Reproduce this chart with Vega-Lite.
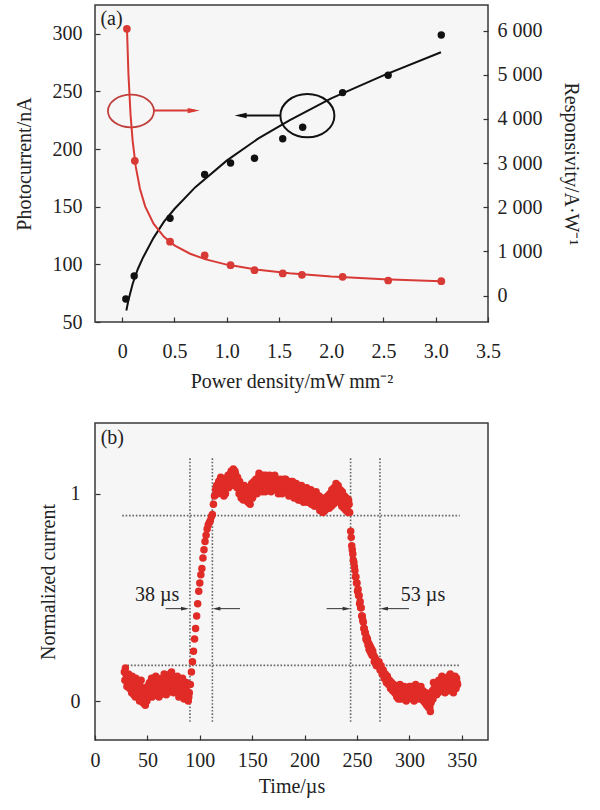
{
"$schema": "https://vega.github.io/schema/vega-lite/v6.json",
"padding": {"left": 13, "top": 4, "right": 5, "bottom": 5},
"spacing": 30,
"config": {
 "font": "Liberation Serif",
 "view": {"stroke": "#3a3a3a", "strokeWidth": 1.5, "fill": "#f6f6f6"},
 "axis": {"grid": false, "domain": false, "labelFont": "Liberation Serif", "titleFont": "Liberation Serif", "labelFontSize": 20, "titleFontSize": 20, "titleFontWeight": "normal", "labelColor": "#222", "titleColor": "#222", "tickColor": "#333", "tickSize": -5, "tickWidth": 1.2, "labelFlush": false, "labelOverlap": false, "labelPadding": 12},
 "text": {"font": "Liberation Serif", "fontSize": 20, "color": "#222"}
},
"datasets": {
 "pc": [{"P":0.035,"I":70},{"P":0.115,"I":90},{"P":0.458,"I":140},{"P":0.789,"I":178},{"P":1.037,"I":188},{"P":1.266,"I":192},{"P":1.536,"I":209},{"P":1.727,"I":219},{"P":2.109,"I":249},{"P":2.545,"I":264},{"P":3.053,"I":299}],
 "pcfit": [{"P":0.04,"I":60},{"P":0.06,"I":69},{"P":0.1,"I":83},{"P":0.15,"I":96},{"P":0.2,"I":106},{"P":0.3,"I":123},{"P":0.4,"I":137},{"P":0.5,"I":148},{"P":0.7,"I":167},{"P":1.0,"I":190},{"P":1.3,"I":209},{"P":1.6,"I":225},{"P":2.0,"I":244},{"P":2.5,"I":264},{"P":3.05,"I":284}],
 "rs": [{"P":0.045,"R":6040},{"P":0.121,"R":3050},{"P":0.458,"R":1220},{"P":0.789,"R":908},{"P":1.037,"R":688},{"P":1.266,"R":574},{"P":1.536,"R":499},{"P":1.72,"R":470},{"P":2.109,"R":424},{"P":2.545,"R":340},{"P":3.053,"R":325}],
 "rsfit": [{"P":0.046,"R":6040},{"P":0.06,"R":5015},{"P":0.08,"R":4102},{"P":0.1,"R":3509},{"P":0.13,"R":2919},{"P":0.17,"R":2419},{"P":0.22,"R":2020},{"P":0.3,"R":1626},{"P":0.4,"R":1329},{"P":0.5,"R":1137},{"P":0.65,"R":946},{"P":0.8,"R":818},{"P":1.0,"R":700},{"P":1.3,"R":582},{"P":1.6,"R":504},{"P":2.0,"R":431},{"P":2.5,"R":369},{"P":3.05,"R":321}],
 "pulse": [
{"t":28,"v":0.14},{"t":29,"v":0.16},{"t":30,"v":0.11},{"t":31,"v":0.08},{"t":32,"v":0.13},{"t":33,"v":0.06},{"t":34,"v":0.10},{"t":35,"v":0.04},{"t":36,"v":0.09},{"t":37,"v":0.03},{"t":38,"v":0.07},{"t":39,"v":0.11},{"t":40,"v":0.05},{"t":41,"v":0.02},{"t":42,"v":0.08},{"t":43,"v":0.04},{"t":44,"v":0.10},{"t":45,"v":0.01},{"t":46,"v":-0.01},{"t":47,"v":0.05},{"t":48,"v":-0.02},{"t":49,"v":0.03},{"t":50,"v":0.07},{"t":51,"v":0.02},{"t":52,"v":0.09},{"t":53,"v":0.05},{"t":54,"v":0.11},{"t":55,"v":0.06},{"t":56,"v":0.03},{"t":57,"v":0.08},{"t":58,"v":0.12},{"t":59,"v":0.05},{"t":60,"v":0.09},{"t":61,"v":0.02},{"t":62,"v":0.06},{"t":63,"v":0.10},{"t":64,"v":0.04},{"t":65,"v":0.08},{"t":66,"v":0.13},{"t":67,"v":0.07},{"t":68,"v":0.03},{"t":69,"v":0.09},{"t":70,"v":0.12},{"t":71,"v":0.06},{"t":72,"v":0.10},{"t":73,"v":0.14},{"t":74,"v":0.08},{"t":75,"v":0.04},{"t":76,"v":0.07},{"t":77,"v":0.11},{"t":78,"v":0.05},{"t":79,"v":0.09},{"t":80,"v":0.02},{"t":81,"v":0.06},{"t":82,"v":0.10},{"t":83,"v":0.04},{"t":84,"v":0.08},{"t":85,"v":0.01},{"t":86,"v":0.05},{"t":87,"v":0.09},{"t":88,"v":0.03},{"t":89,"v":0.00},{"t":90,"v":0.04},
{"t":28.5,"v":0.10},{"t":29.5,"v":0.13},{"t":30.5,"v":0.07},{"t":31.5,"v":0.12},{"t":32.5,"v":0.09},{"t":33.5,"v":0.11},{"t":34.5,"v":0.07},{"t":35.5,"v":0.12},{"t":36.5,"v":0.05},{"t":37.5,"v":0.09},{"t":38.5,"v":0.02},{"t":39.5,"v":0.06},{"t":40.5,"v":0.09},{"t":41.5,"v":0.04},{"t":42.5,"v":0.00},{"t":43.5,"v":0.07},{"t":44.5,"v":0.03},{"t":45.5,"v":0.06},{"t":46.5,"v":0.03},{"t":47.5,"v":0.01},{"t":48.5,"v":0.06},{"t":49.5,"v":0.00},{"t":50.5,"v":0.04},{"t":51.5,"v":0.08},{"t":52.5,"v":0.03},{"t":53.5,"v":0.07},{"t":54.5,"v":0.02},{"t":55.5,"v":0.09},{"t":56.5,"v":0.06},{"t":57.5,"v":0.03},{"t":58.5,"v":0.08},{"t":59.5,"v":0.11},{"t":60.5,"v":0.05},{"t":61.5,"v":0.08},{"t":62.5,"v":0.03},{"t":63.5,"v":0.07},{"t":64.5,"v":0.11},{"t":65.5,"v":0.05},{"t":66.5,"v":0.09},{"t":67.5,"v":0.11},{"t":68.5,"v":0.06},{"t":69.5,"v":0.04},{"t":70.5,"v":0.08},{"t":71.5,"v":0.13},{"t":72.5,"v":0.07},{"t":73.5,"v":0.10},{"t":74.5,"v":0.12},{"t":75.5,"v":0.06},{"t":76.5,"v":0.10},{"t":77.5,"v":0.08},{"t":78.5,"v":0.12},{"t":79.5,"v":0.06},{"t":80.5,"v":0.09},{"t":81.5,"v":0.04},{"t":82.5,"v":0.07},{"t":83.5,"v":0.11},{"t":84.5,"v":0.05},{"t":85.5,"v":0.03},{"t":86.5,"v":0.07},{"t":87.5,"v":0.05},{"t":88.5,"v":0.08},{"t":89.5,"v":0.02},
{"t":91,"v":0.08},{"t":92,"v":0.14},{"t":93,"v":0.19},{"t":94,"v":0.24},{"t":95,"v":0.30},{"t":96,"v":0.35},{"t":97,"v":0.41},{"t":98,"v":0.47},{"t":99,"v":0.53},{"t":100,"v":0.57},{"t":101,"v":0.61},{"t":102,"v":0.64},{"t":103,"v":0.69},{"t":104,"v":0.73},{"t":105,"v":0.77},{"t":106,"v":0.80},{"t":107,"v":0.83},{"t":108,"v":0.85},{"t":109,"v":0.86},{"t":110,"v":0.87},{"t":111,"v":0.89},{"t":112,"v":0.90},{"t":113,"v":0.95},{"t":114,"v":0.99},{"t":115,"v":1.02},{"t":116,"v":1.04},
{"t":117,"v":1.03},{"t":118,"v":1.06},{"t":119,"v":1.04},{"t":120,"v":1.08},{"t":121,"v":1.02},{"t":122,"v":1.05},{"t":123,"v":0.99},{"t":124,"v":1.03},{"t":125,"v":1.07},{"t":126,"v":1.04},{"t":127,"v":1.09},{"t":128,"v":1.05},{"t":129,"v":1.08},{"t":130,"v":1.11},{"t":131,"v":1.06},{"t":132,"v":1.12},{"t":133,"v":1.09},{"t":134,"v":1.10},{"t":135,"v":1.05},{"t":136,"v":1.08},{"t":137,"v":1.03},{"t":138,"v":1.06},{"t":139,"v":1.01},{"t":140,"v":1.04},{"t":141,"v":0.99},{"t":142,"v":1.02},{"t":143,"v":1.00},{"t":144,"v":0.97},{"t":145,"v":1.01},{"t":146,"v":0.96},{"t":147,"v":1.00},{"t":148,"v":0.95},{"t":149,"v":0.99},{"t":150,"v":1.03},{"t":151,"v":1.00},{"t":152,"v":1.04},{"t":153,"v":1.01},{"t":154,"v":1.06},{"t":155,"v":1.03},{"t":156,"v":1.08},{"t":157,"v":1.05},{"t":158,"v":1.09},{"t":159,"v":1.04},{"t":160,"v":1.07},{"t":161,"v":1.02},{"t":162,"v":1.06},{"t":163,"v":1.09},{"t":164,"v":1.05},{"t":165,"v":1.08},{"t":166,"v":1.03},{"t":167,"v":1.07},{"t":168,"v":1.01},{"t":169,"v":1.05},{"t":170,"v":1.08},{"t":171,"v":1.04},{"t":172,"v":1.06},{"t":173,"v":1.02},{"t":174,"v":1.05},{"t":175,"v":1.00},{"t":176,"v":1.04},{"t":177,"v":1.07},{"t":178,"v":1.03},{"t":179,"v":1.06},{"t":180,"v":1.01},{"t":181,"v":1.04},{"t":182,"v":1.07},{"t":183,"v":1.02},{"t":184,"v":1.05},{"t":185,"v":0.99},{"t":186,"v":1.03},{"t":187,"v":1.06},{"t":188,"v":1.00},{"t":189,"v":1.04},{"t":190,"v":0.98},{"t":191,"v":1.02},{"t":192,"v":1.05},{"t":193,"v":1.01},{"t":194,"v":0.97},{"t":195,"v":1.03},{"t":196,"v":0.99},{"t":197,"v":1.04},{"t":198,"v":1.00},{"t":199,"v":0.96},{"t":200,"v":1.02},{"t":201,"v":0.98},{"t":202,"v":1.03},{"t":203,"v":0.99},{"t":204,"v":1.01},{"t":205,"v":0.97},{"t":206,"v":1.02},{"t":207,"v":0.98},{"t":208,"v":0.95},{"t":209,"v":1.00},{"t":210,"v":0.96},{"t":211,"v":1.01},{"t":212,"v":0.97},{"t":213,"v":0.94},{"t":214,"v":0.99},{"t":215,"v":0.95},{"t":216,"v":0.92},{"t":217,"v":0.97},{"t":218,"v":0.94},{"t":219,"v":0.98},{"t":220,"v":0.93},{"t":221,"v":0.96},{"t":222,"v":0.99},{"t":223,"v":0.95},{"t":224,"v":1.00},{"t":225,"v":0.96},{"t":226,"v":1.02},{"t":227,"v":0.97},{"t":228,"v":1.03},{"t":229,"v":0.98},{"t":230,"v":1.05},{"t":231,"v":1.01},{"t":232,"v":1.04},{"t":233,"v":0.99},{"t":234,"v":1.02},{"t":235,"v":0.97},{"t":236,"v":1.01},{"t":237,"v":0.96},{"t":238,"v":0.99},{"t":239,"v":0.95},{"t":240,"v":0.98},{"t":241,"v":0.94},{"t":242,"v":0.97},{"t":243,"v":0.91},
{"t":117.5,"v":1.00},{"t":118.5,"v":1.04},{"t":119.5,"v":1.07},{"t":120.5,"v":1.03},{"t":121.5,"v":1.06},{"t":122.5,"v":1.01},{"t":123.5,"v":1.04},{"t":124.5,"v":1.00},{"t":125.5,"v":1.05},{"t":126.5,"v":1.08},{"t":127.5,"v":1.03},{"t":128.5,"v":1.07},{"t":129.5,"v":1.10},{"t":130.5,"v":1.04},{"t":131.5,"v":1.09},{"t":132.5,"v":1.07},{"t":133.5,"v":1.11},{"t":134.5,"v":1.06},{"t":135.5,"v":1.03},{"t":136.5,"v":1.05},{"t":137.5,"v":1.00},{"t":138.5,"v":1.04},{"t":139.5,"v":0.98},{"t":140.5,"v":1.01},{"t":141.5,"v":0.97},{"t":142.5,"v":1.04},{"t":143.5,"v":0.98},{"t":144.5,"v":1.02},{"t":145.5,"v":0.98},{"t":146.5,"v":1.03},{"t":147.5,"v":0.97},{"t":148.5,"v":1.01},{"t":149.5,"v":1.05},{"t":150.5,"v":0.98},{"t":151.5,"v":1.06},{"t":152.5,"v":1.02},{"t":153.5,"v":1.07},{"t":154.5,"v":1.00},{"t":155.5,"v":1.05},{"t":156.5,"v":1.10},{"t":157.5,"v":1.02},{"t":158.5,"v":1.06},{"t":159.5,"v":1.01},{"t":160.5,"v":1.09},{"t":161.5,"v":1.04},{"t":162.5,"v":1.01},{"t":163.5,"v":1.07},{"t":164.5,"v":1.02},{"t":165.5,"v":1.06},{"t":166.5,"v":1.09},{"t":167.5,"v":1.04},{"t":168.5,"v":1.07},{"t":169.5,"v":1.02},{"t":170.5,"v":1.05},{"t":171.5,"v":1.09},{"t":172.5,"v":1.03},{"t":173.5,"v":1.07},{"t":174.5,"v":1.03},{"t":175.5,"v":1.06},{"t":176.5,"v":1.01},{"t":177.5,"v":1.05},{"t":178.5,"v":1.00},{"t":179.5,"v":1.04},{"t":180.5,"v":1.07},{"t":181.5,"v":1.02},{"t":182.5,"v":1.04},{"t":183.5,"v":1.06},{"t":184.5,"v":1.01},{"t":185.5,"v":1.04},{"t":186.5,"v":1.00},{"t":187.5,"v":1.03},{"t":188.5,"v":1.06},{"t":189.5,"v":1.01},{"t":190.5,"v":1.04},{"t":191.5,"v":0.99},{"t":192.5,"v":1.02},{"t":193.5,"v":1.04},{"t":194.5,"v":1.00},{"t":195.5,"v":0.97},{"t":196.5,"v":1.02},{"t":197.5,"v":0.98},{"t":198.5,"v":1.03},{"t":199.5,"v":0.99},{"t":200.5,"v":0.97},{"t":201.5,"v":1.01},{"t":202.5,"v":0.96},{"t":203.5,"v":1.02},{"t":204.5,"v":0.98},{"t":205.5,"v":1.00},{"t":206.5,"v":0.95},{"t":207.5,"v":1.00},{"t":208.5,"v":0.98},{"t":209.5,"v":0.94},{"t":210.5,"v":0.99},{"t":211.5,"v":0.95},{"t":212.5,"v":0.99},{"t":213.5,"v":0.96},{"t":214.5,"v":0.92},{"t":215.5,"v":0.97},{"t":216.5,"v":0.95},{"t":217.5,"v":0.91},{"t":218.5,"v":0.96},{"t":219.5,"v":0.92},{"t":220.5,"v":0.97},{"t":221.5,"v":0.93},{"t":222.5,"v":0.97},{"t":223.5,"v":0.93},{"t":224.5,"v":0.98},{"t":225.5,"v":0.94},{"t":226.5,"v":0.99},{"t":227.5,"v":0.95},{"t":228.5,"v":1.00},{"t":229.5,"v":0.96},{"t":230.5,"v":1.02},{"t":231.5,"v":0.97},{"t":232.5,"v":1.00},{"t":233.5,"v":0.96},{"t":234.5,"v":0.99},{"t":235.5,"v":0.94},{"t":236.5,"v":0.98},{"t":237.5,"v":0.93},{"t":238.5,"v":0.97},{"t":239.5,"v":0.92},{"t":240.5,"v":0.96},{"t":241.5,"v":0.91},{"t":242.5,"v":0.95},
{"t":244,"v":0.82},{"t":244.5,"v":0.79},{"t":245,"v":0.75},{"t":245.5,"v":0.73},{"t":246,"v":0.71},{"t":246.5,"v":0.68},{"t":247,"v":0.67},{"t":247.5,"v":0.65},{"t":248,"v":0.63},{"t":248.5,"v":0.60},{"t":249,"v":0.60},{"t":249.5,"v":0.57},{"t":250,"v":0.57},{"t":250.5,"v":0.53},{"t":251,"v":0.54},{"t":251.5,"v":0.51},{"t":252,"v":0.51},{"t":252.5,"v":0.47},{"t":253,"v":0.48},{"t":253.5,"v":0.45},{"t":254,"v":0.45},{"t":254.5,"v":0.41},{"t":255,"v":0.41},{"t":255.5,"v":0.39},{"t":256,"v":0.38},{"t":256.5,"v":0.35},{"t":257,"v":0.35},{"t":257.5,"v":0.33},{"t":258,"v":0.33},{"t":258.5,"v":0.30},{"t":259,"v":0.31},{"t":259.5,"v":0.29},{"t":260,"v":0.30},{"t":260.5,"v":0.27},{"t":261,"v":0.28},{"t":261.5,"v":0.25},{"t":262,"v":0.27},{"t":262.5,"v":0.24},{"t":263,"v":0.26},{"t":263.5,"v":0.23},{"t":264,"v":0.25},{"t":264.5,"v":0.22},{"t":265,"v":0.24},{"t":266,"v":0.22},{"t":266.5,"v":0.19},{"t":267,"v":0.21},{"t":268,"v":0.20},{"t":268.5,"v":0.17},{"t":269,"v":0.19},{"t":270,"v":0.17},{"t":271,"v":0.19},{"t":272,"v":0.15},{"t":273,"v":0.17},{"t":274,"v":0.13},{"t":275,"v":0.15},{"t":276,"v":0.11},{"t":277,"v":0.13},{"t":278,"v":0.09},{"t":279,"v":0.12},{"t":280,"v":0.08},{"t":281,"v":0.10},{"t":282,"v":0.06},{"t":283,"v":0.09},{"t":284,"v":0.05},{"t":285,"v":0.08},
{"t":286,"v":0.04},{"t":287,"v":0.07},{"t":288,"v":0.02},{"t":289,"v":0.06},{"t":290,"v":0.03},{"t":291,"v":0.08},{"t":292,"v":0.01},{"t":293,"v":0.05},{"t":294,"v":0.02},{"t":295,"v":0.07},{"t":296,"v":0.04},{"t":297,"v":0.00},{"t":298,"v":0.05},{"t":299,"v":0.03},{"t":300,"v":0.07},{"t":301,"v":0.02},{"t":302,"v":0.05},{"t":303,"v":0.01},{"t":304,"v":0.06},{"t":305,"v":0.03},{"t":306,"v":0.08},{"t":307,"v":0.04},{"t":308,"v":0.02},{"t":309,"v":0.06},{"t":310,"v":0.03},{"t":311,"v":0.07},{"t":312,"v":0.01},{"t":313,"v":0.05},{"t":314,"v":0.02},{"t":315,"v":-0.01},{"t":316,"v":0.04},{"t":317,"v":0.01},{"t":318,"v":-0.03},{"t":319,"v":0.02},{"t":320,"v":-0.05},{"t":321,"v":0.00},{"t":322,"v":0.05},{"t":323,"v":0.09},{"t":324,"v":0.04},{"t":325,"v":0.07},{"t":326,"v":0.03},{"t":327,"v":0.06},{"t":328,"v":0.10},{"t":329,"v":0.05},{"t":330,"v":0.08},{"t":331,"v":0.12},{"t":332,"v":0.06},{"t":333,"v":0.09},{"t":334,"v":0.04},{"t":335,"v":0.07},{"t":336,"v":0.11},{"t":337,"v":0.05},{"t":338,"v":0.08},{"t":339,"v":0.13},{"t":340,"v":0.06},{"t":341,"v":0.09},{"t":342,"v":0.04},{"t":343,"v":0.10},{"t":344,"v":0.07},{"t":345,"v":0.11},{"t":346,"v":0.08},
{"t":286.5,"v":0.07},{"t":287.5,"v":0.03},{"t":288.5,"v":0.06},{"t":289.5,"v":0.01},{"t":290.5,"v":0.06},{"t":291.5,"v":0.03},{"t":292.5,"v":0.06},{"t":293.5,"v":0.02},{"t":294.5,"v":0.05},{"t":295.5,"v":0.01},{"t":296.5,"v":0.06},{"t":297.5,"v":0.03},{"t":298.5,"v":0.01},{"t":299.5,"v":0.06},{"t":300.5,"v":0.04},{"t":301.5,"v":0.07},{"t":302.5,"v":0.02},{"t":303.5,"v":0.04},{"t":304.5,"v":0.00},{"t":305.5,"v":0.05},{"t":306.5,"v":0.02},{"t":307.5,"v":0.06},{"t":308.5,"v":0.05},{"t":309.5,"v":0.01},{"t":310.5,"v":0.05},{"t":311.5,"v":0.02},{"t":312.5,"v":0.04},{"t":313.5,"v":0.00},{"t":314.5,"v":0.03},{"t":315.5,"v":0.02},{"t":316.5,"v":-0.02},{"t":317.5,"v":0.03},{"t":318.5,"v":0.00},{"t":319.5,"v":-0.03},{"t":320.5,"v":-0.01},{"t":321.5,"v":0.03},{"t":322.5,"v":0.01},{"t":323.5,"v":0.06},{"t":324.5,"v":0.08},{"t":325.5,"v":0.05},{"t":326.5,"v":0.09},{"t":327.5,"v":0.04},{"t":328.5,"v":0.07},{"t":329.5,"v":0.10},{"t":330.5,"v":0.05},{"t":331.5,"v":0.09},{"t":332.5,"v":0.11},{"t":333.5,"v":0.06},{"t":334.5,"v":0.09},{"t":335.5,"v":0.05},{"t":336.5,"v":0.08},{"t":337.5,"v":0.12},{"t":338.5,"v":0.06},{"t":339.5,"v":0.10},{"t":340.5,"v":0.11},{"t":341.5,"v":0.05},{"t":342.5,"v":0.08},{"t":343.5,"v":0.12},{"t":344.5,"v":0.06},{"t":345.5,"v":0.09}
 ]
},
"vconcat": [
 {
  "width": 393, "height": 317,
  "resolve": {"scale": {"y": "independent"}},
  "layer": [
   {
    "layer": [
     {"data": {"name": "pcfit"}, "mark": {"type": "line", "color": "#111", "strokeWidth": 2},
      "encoding": {
       "x": {"field": "P", "type": "quantitative", "scale": {"domain": [-0.26, 3.5], "nice": false, "zero": false},
             "axis": {"title": "Power density/mW mm⁻²", "values": [0,0.5,1,1.5,2,2.5,3,3.5], "labelExpr": "datum.value == 0 ? '0' : format(datum.value, '.1f')", "labelPadding": 24, "titlePadding": 10}},
       "y": {"field": "I", "type": "quantitative", "scale": {"domain": [50, 325], "nice": false, "zero": false},
             "axis": {"orient": "left", "title": "Photocurrent/nA", "values": [50,100,150,200,250,300], "labelPadding": 18, "titlePadding": 18}}
      }},
     {"data": {"name": "pc"}, "mark": {"type": "point", "filled": true, "color": "#111", "size": 55, "opacity": 1},
      "encoding": {"x": {"field": "P", "type": "quantitative"}, "y": {"field": "I", "type": "quantitative"}}},
     {"data": {"values": [{"P": 0.084, "I": 233}]}, "mark": {"type": "point", "filled": false, "color": "#c0403e", "strokeWidth": 1.8, "opacity": 1, "size": 2116, "shape": "M-1,0A1,0.71,0,1,1,1,0A1,0.71,0,1,1,-1,0Z"},
      "encoding": {"x": {"field": "P", "type": "quantitative"}, "y": {"field": "I", "type": "quantitative"}}},
     {"data": {"values": [{"P": 1.772, "I": 229}]}, "mark": {"type": "point", "filled": false, "color": "#111", "strokeWidth": 2, "opacity": 1, "size": 2916, "shape": "M-1,0A1,0.8,0,1,1,1,0A1,0.8,0,1,1,-1,0Z"},
      "encoding": {"x": {"field": "P", "type": "quantitative"}, "y": {"field": "I", "type": "quantitative"}}},
     {"data": {"values": [{"P": 0.301, "P2": 0.69, "I": 233.4}]}, "mark": {"type": "rule", "color": "#d83a36", "strokeWidth": 2},
      "encoding": {"x": {"field": "P", "type": "quantitative"}, "x2": {"field": "P2"}, "y": {"field": "I", "type": "quantitative"}}},
     {"data": {"values": [{"P": 0.684, "I": 233.4}]}, "mark": {"type": "point", "filled": true, "color": "#d83a36", "opacity": 1, "size": 144, "shape": "M1,0L-1,-0.45L-1,0.45Z"},
      "encoding": {"x": {"field": "P", "type": "quantitative"}, "y": {"field": "I", "type": "quantitative"}}},
     {"data": {"values": [{"P": 1.126, "P2": 1.513, "I": 229.1}]}, "mark": {"type": "rule", "color": "#111", "strokeWidth": 2},
      "encoding": {"x": {"field": "P", "type": "quantitative"}, "x2": {"field": "P2"}, "y": {"field": "I", "type": "quantitative"}}},
     {"data": {"values": [{"P": 1.133, "I": 229.1}]}, "mark": {"type": "point", "filled": true, "color": "#111", "opacity": 1, "size": 144, "shape": "M-1,0L1,-0.45L1,0.45Z"},
      "encoding": {"x": {"field": "P", "type": "quantitative"}, "y": {"field": "I", "type": "quantitative"}}},
     {"data": {"values": [{"P": -0.102, "I": 312.6, "lab": "(a)"}]}, "mark": {"type": "text", "align": "center", "baseline": "middle"},
      "encoding": {"x": {"field": "P", "type": "quantitative"}, "y": {"field": "I", "type": "quantitative"}, "text": {"field": "lab"}}}
    ]
   },
   {
    "layer": [
     {"data": {"name": "rsfit"}, "mark": {"type": "line", "color": "#d83a36", "strokeWidth": 2},
      "encoding": {
       "x": {"field": "P", "type": "quantitative"},
       "y": {"field": "R", "type": "quantitative", "scale": {"domain": [-600, 6580], "nice": false, "zero": false},
             "axis": {"orient": "right", "title": "Responsivity/A·W⁻¹", "values": [0,1000,2000,3000,4000,5000,6000], "labelExpr": "replace(format(datum.value, ','), ',', ' ')", "labelPadding": 14, "titlePadding": 18}}
      }},
     {"data": {"name": "rs"}, "mark": {"type": "point", "filled": true, "color": "#d83a36", "size": 60, "opacity": 1},
      "encoding": {"x": {"field": "P", "type": "quantitative"}, "y": {"field": "R", "type": "quantitative"}}}
    ]
   }
  ]
 },
 {
  "width": 393, "height": 317,
  "layer": [
   {"data": {"values": [{"t": 26, "t2": 348, "v": 0.895}, {"t": 31, "t2": 348, "v": 0.172}]}, "mark": {"type": "rule", "color": "#666", "strokeWidth": 1.6, "strokeDash": [1.6, 1.8]},
    "encoding": {
     "x": {"field": "t", "type": "quantitative", "scale": {"domain": [0, 375], "nice": false, "zero": false},
           "axis": {"title": "Time/µs", "values": [0,50,100,150,200,250,300,350], "labelPadding": 15, "titlePadding": 6}},
     "x2": {"field": "t2"},
     "y": {"field": "v", "type": "quantitative", "scale": {"domain": [-0.188, 1.342], "nice": false, "zero": false},
           "axis": {"title": "Normalized current", "values": [0, 1], "format": "d", "labelPadding": 20, "titlePadding": 12}}
    }},
   {"data": {"values": [{"t": 90.6, "v": -0.1, "v2": 1.175}, {"t": 112, "v": -0.1, "v2": 1.175}, {"t": 243.9, "v": -0.1, "v2": 1.175}, {"t": 271.9, "v": -0.1, "v2": 1.175}]}, "mark": {"type": "rule", "color": "#666", "strokeWidth": 1.6, "strokeDash": [1.6, 1.8]},
    "encoding": {"x": {"field": "t", "type": "quantitative"}, "y": {"field": "v", "type": "quantitative"}, "y2": {"field": "v2"}}},
   {"data": {"name": "pulse"}, "mark": {"type": "point", "filled": true, "color": "#e02b26", "size": 56, "opacity": 1},
    "encoding": {"x": {"field": "t", "type": "quantitative"}, "y": {"field": "v", "type": "quantitative"}}},
   {"data": {"values": [{"t": 67.4, "t2": 86, "v": 0.446}, {"t": 115.7, "t2": 138.4, "v": 0.446}, {"t": 221, "t2": 240, "v": 0.446}, {"t": 275.8, "t2": 299.6, "v": 0.446}]}, "mark": {"type": "rule", "color": "#333", "strokeWidth": 1},
    "encoding": {"x": {"field": "t", "type": "quantitative"}, "x2": {"field": "t2"}, "y": {"field": "v", "type": "quantitative"}}},
   {"data": {"values": [{"t": 85.9, "v": 0.446}, {"t": 240.1, "v": 0.446}]}, "mark": {"type": "point", "filled": true, "color": "#333", "opacity": 1, "size": 64, "shape": "M1,0L-1,-0.45L-1,0.45Z"},
    "encoding": {"x": {"field": "t", "type": "quantitative"}, "y": {"field": "v", "type": "quantitative"}}},
   {"data": {"values": [{"t": 115.8, "v": 0.446}, {"t": 275.7, "v": 0.446}]}, "mark": {"type": "point", "filled": true, "color": "#333", "opacity": 1, "size": 64, "shape": "M-1,0L1,-0.45L1,0.45Z"},
    "encoding": {"x": {"field": "t", "type": "quantitative"}, "y": {"field": "v", "type": "quantitative"}}},
   {"data": {"values": [{"t": 59.4, "v": 0.514, "lab": "38 µs"}, {"t": 313, "v": 0.514, "lab": "53 µs"}, {"t": 16.5, "v": 1.27, "lab": "(b)"}]}, "mark": {"type": "text", "align": "center", "baseline": "middle"},
    "encoding": {"x": {"field": "t", "type": "quantitative"}, "y": {"field": "v", "type": "quantitative"}, "text": {"field": "lab"}}}
  ]
 }
]
}
